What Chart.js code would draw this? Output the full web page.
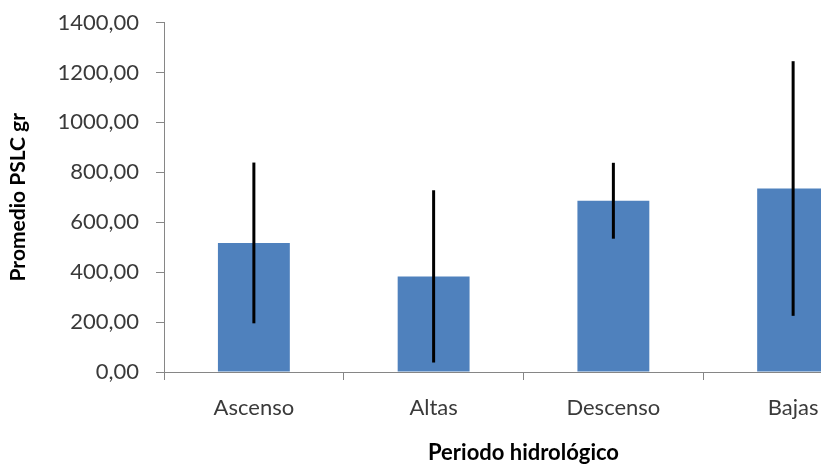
<!DOCTYPE html>
<html>
<head>
<meta charset="utf-8">
<script src="https://cdn.jsdelivr.net/npm/chart.js@4/dist/chart.umd.min.js"></script>
<style>
  html, body { margin: 0; padding: 0; background: #fff; overflow: hidden; }
  #wrap { width: 900px; height: 466px; }
</style>
</head>
<body>
<div id="wrap"><canvas id="c" width="900" height="466"></canvas></div>
<script>
// Mean weight per hydrological period, with its standard deviation
const categories = ['Ascenso', 'Altas', 'Descenso', 'Bajas'];
const meanValues = [517, 383, 686, 735];
const sdValues = [322, 345, 152, 510];
const yTickValues = [0, 200, 400, 600, 800, 1000, 1200, 1400];

const axisGray = '#868686';
const labelColor = '#3a3a3a';

// Symmetric error bars (mean ± sd) drawn through the chart's own scales
const errorBars = {
  id: 'errorBars',
  afterDatasetsDraw(chart) {
    const { ctx, scales: { y } } = chart;
    const meta = chart.getDatasetMeta(0);
    ctx.save();
    ctx.strokeStyle = '#000';
    ctx.lineWidth = 3;
    meta.data.forEach((bar, i) => {
      const top = y.getPixelForValue(meanValues[i] + sdValues[i]);
      const bottom = y.getPixelForValue(meanValues[i] - sdValues[i]);
      ctx.beginPath();
      ctx.moveTo(bar.x, top);
      ctx.lineTo(bar.x, bottom);
      ctx.stroke();
    });
    ctx.restore();
  }
};

new Chart(document.getElementById('c'), {
  type: 'bar',
  data: {
    labels: categories,
    datasets: [{
      data: meanValues,
      backgroundColor: '#4f81bd',
      borderWidth: 0,
      categoryPercentage: 1,
      barPercentage: 0.4
    }]
  },
  options: {
    responsive: false,
    animation: false,
    layout: { padding: { top: 22.5, right: 17, left: 0, bottom: 0 } },
    plugins: {
      legend: { display: false },
      tooltip: { enabled: false }
    },
    scales: {
      x: {
        afterFit(scale) { scale.height = 94; },
        grid: {
          display: true,
          drawOnChartArea: false,
          drawTicks: true,
          tickLength: 8,
          color: axisGray,
          offset: true
        },
        border: { display: true, color: axisGray, width: 1 },
        ticks: {
          color: labelColor,
          padding: 15,
          font: { family: 'Lato', size: 22 }
        },
        title: {
          display: true,
          text: 'Periodo hidrológico',
          color: '#000',
          font: { family: 'Lato', size: 22, weight: 'bold' },
          padding: { top: 0, bottom: 0 }
        }
      },
      y: {
        min: 0,
        max: 1400,
        afterFit(scale) {
          scale.width = 164;
          scale.paddingTop = 0;
          scale.paddingBottom = 0;
        },
        afterBuildTicks(scale) {
          scale.ticks = yTickValues.map(v => ({ value: v }));
        },
        grid: {
          display: true,
          drawOnChartArea: false,
          drawTicks: true,
          tickLength: 8,
          color: axisGray
        },
        border: { display: true, color: axisGray, width: 1 },
        ticks: {
          color: labelColor,
          padding: 17,
          font: { family: 'Lato', size: 22 },
          callback: (v) => Number(v).toFixed(2).replace('.', ',')
        },
        title: {
          display: true,
          text: 'Promedio PSLC gr',
          color: '#000',
          font: { family: 'Lato', size: 21, weight: 'bold' },
          padding: { top: 6, bottom: 0 }
        }
      }
    }
  },
  plugins: [errorBars]
});
</script>
</body>
</html>
